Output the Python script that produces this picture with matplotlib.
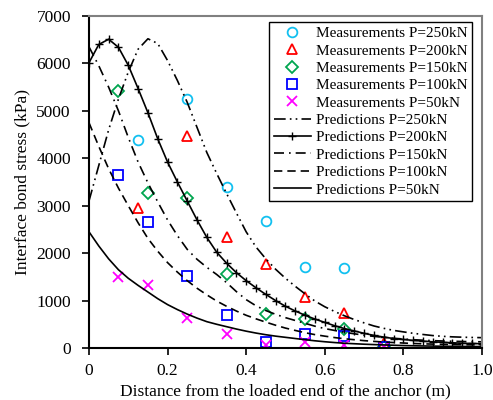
import numpy as np
from matplotlib import pyplot as plt

# -- dados --
# medicoes (distancia em m, tensao em kPa)
x_250 = [0.125, 0.25, 0.35, 0.45, 0.55, 0.65]
y_250 = [4380, 5250, 3395, 2680, 1710, 1690]

x_200 = [0.125, 0.25, 0.35, 0.45, 0.55, 0.65, 0.75]
y_200 = [2950, 4460, 2340, 1770, 1075, 740, 100]

x_150 = [0.075, 0.15, 0.25, 0.35, 0.45, 0.55, 0.65, 0.75]
y_150 = [5420, 3270, 3160, 1560, 717, 610, 400, 20]

x_100 = [0.075, 0.15, 0.25, 0.35, 0.45, 0.55, 0.65, 0.75]
y_100 = [3650, 2660, 1520, 700, 130, 290, 250, 20]

x_50 = [0.075, 0.15, 0.25, 0.35, 0.45, 0.55, 0.65, 0.75]
y_50 = [1500, 1320, 640, 290, 60, 130, 70, 20]

# previsoes, pontos a cada 0.025 m
x_pred = np.linspace(0, 1, 41)
pred_250 = [3100, 3850, 4600, 5250, 5820, 6300, 6520, 6420, 6060, 5640,
            5180, 4650, 4120, 3680, 3260, 2850, 2450, 2130, 1880, 1660,
            1470, 1300, 1140, 990, 870, 770, 680, 600, 530, 465,
            415, 372, 340, 310, 285, 262, 246, 235, 228, 222, 218]
pred_200 = [6015, 6400, 6510, 6340, 5960, 5470, 4960, 4410, 3920, 3500,
            3100, 2700, 2330, 2020, 1790, 1590, 1420, 1270, 1130, 1000,
            880, 780, 690, 610, 540, 470, 410, 360, 310, 265,
            230, 200, 180, 160, 145, 130, 120, 110, 100, 95, 90]
pred_150 = [6350, 5950, 5500, 5000, 4440, 3920, 3480, 3080, 2700, 2370,
            2080, 1870, 1700, 1550, 1380, 1190, 1020, 890, 790, 710,
            640, 580, 520, 460, 410, 370, 330, 300, 270, 245,
            225, 205, 190, 175, 165, 155, 148, 142, 137, 133, 130]
pred_100 = [4750, 4250, 3780, 3370, 3000, 2640, 2310, 2040, 1800, 1600,
            1420, 1260, 1120, 990, 880, 780, 690, 615, 545, 480,
            420, 370, 322, 282, 250, 220, 195, 175, 155, 140,
            125, 115, 105, 95, 88, 82, 77, 73, 70, 67, 65]
pred_50 = [2450, 2150, 1880, 1650, 1470, 1320, 1180, 1040, 915, 810,
           715, 630, 555, 500, 450, 400, 355, 315, 280, 250,
           225, 200, 175, 152, 132, 115, 100, 90, 80, 72,
           65, 58, 52, 47, 43, 40, 37, 35, 33, 31, 30]

plt.rcParams['font.family'] = ['Liberation Serif', 'DejaVu Serif']

fig = plt.figure(figsize=(4.93, 4.0), dpi=100)
ax = fig.add_axes([0.1805, 0.13, 0.797, 0.83])

ms = 7
mew = 1.3
ax.plot(x_250, y_250, 'o', ms=ms, mew=mew, mfc='none', mec='#12c0f0', label='Measurements P=250kN')
ax.plot(x_200, y_200, '^', ms=ms, mew=mew, mfc='none', mec='#ff0000', label='Measurements P=200kN')
ax.plot(x_150, y_150, 'D', ms=6, mew=mew, mfc='none', mec='#00a550', label='Measurements P=150kN')
ax.plot(x_100, y_100, 's', ms=ms, mew=mew, mfc='none', mec='#0000ff', label='Measurements P=100kN')
ax.plot(x_50, y_50, 'x', ms=ms, mew=mew, color='#ff00ff', label='Measurements P=50kN')

lw = 1.2
estilo = dict(color='black', lw=lw, solid_joinstyle='round', dash_joinstyle='round')
ax.plot(x_pred, pred_250, dashes=(7, 2.5, 1, 2.5, 1, 2.5), label='Predictions P=250kN', **estilo)
ax.plot(x_pred, pred_200, marker='+', ms=6, mew=1, label='Predictions P=200kN', **estilo)
ax.plot(x_pred, pred_150, dashes=(6, 3, 1, 3), label='Predictions P=150kN', **estilo)
ax.plot(x_pred, pred_100, dashes=(5, 3), label='Predictions P=100kN', **estilo)
ax.plot(x_pred, pred_50, label='Predictions P=50kN', **estilo)

ax.set_xlim(0, 1.0)
ax.set_ylim(0, 7000)
ax.set_xticks([0, 0.2, 0.4, 0.6, 0.8, 1.0])
ax.set_xticklabels(['0', '0.2', '0.4', '0.6', '0.8', '1.0'])
ax.set_yticks(range(0, 7001, 1000))
ax.tick_params(direction='out', length=5, width=1.2, labelsize=12.5)
ax.tick_params(axis='x', pad=6)
ax.tick_params(axis='y', pad=8)

for s in ['left', 'bottom']:
    ax.spines[s].set_color('black')
    ax.spines[s].set_linewidth(1.5)
for s in ['top', 'right']:
    ax.spines[s].set_color('#808080')
    ax.spines[s].set_linewidth(1.5)

ax.set_xlabel('Distance from the loaded end of the anchor (m)', fontsize=12.5, labelpad=3)
ax.set_ylabel('Interface bond stress (kPa)', fontsize=12.5, labelpad=4)

leg = ax.legend(loc='upper right', bbox_to_anchor=(0.975, 0.982), borderaxespad=0,
                fontsize=11, fancybox=False, edgecolor='black', framealpha=1,
                handlelength=2.4, handletextpad=0.35, labelspacing=0.24, borderpad=0.3)
leg.get_frame().set_linewidth(1.0)

plt.savefig('out.png', dpi=100)
